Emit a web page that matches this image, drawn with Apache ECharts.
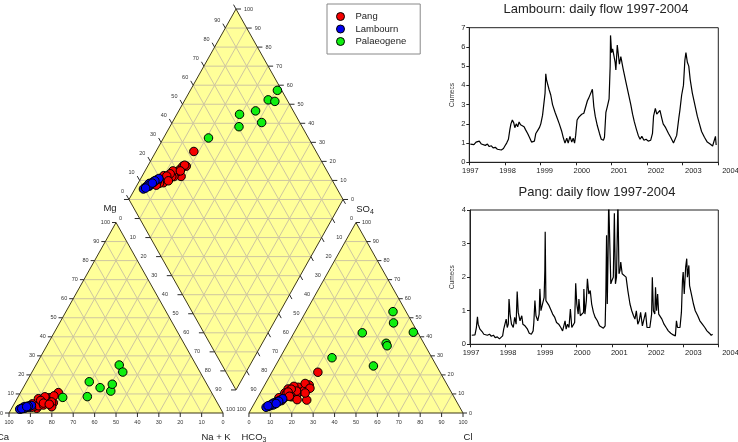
<!DOCTYPE html>
<html><head><meta charset="utf-8">
<script src="https://cdn.jsdelivr.net/npm/echarts@6/dist/echarts.min.js"></script>
<style>html,body{margin:0;padding:0;background:#fff}#c{width:738px;height:442px}</style>
</head><body><div id="c"></div>
<script>
// ---------------- DATA ----------------
// Piper samples: [Mg %, Na+K %, SO4 %, Cl %]  (Ca and HCO3 are the remainders to 100)
const pangSamples = [
  [10.7,17.7,21.4,21.5],[5.4,18.0,14.7,20.8],[3.3,18.3,6.8,23.6],[7.7,15.3,13.5,16.3],
  [6.8,13.4,12.6,12.0],[5.1,12.7,10.0,14.0],[2.5,11.7,8.0,12.5],[8.0,14.5,11.0,18.0],
  [6.0,16.0,12.0,20.0],[4.5,10.5,9.0,13.0],[5.5,11.0,10.5,11.5],[7.0,12.0,8.5,15.5],
  [4.0,9.5,7.5,11.0],[6.5,14.0,14.0,14.0],[3.5,10.0,6.5,12.0],[5.0,15.0,9.5,17.5],
  [9.0,16.5,15.5,18.5],[4.8,8.5,8.0,10.0],[6.2,13.0,11.5,16.5],[3.8,12.0,9.0,15.0],
  [7.5,10.0,10.0,12.5],[5.8,17.0,13.0,22.0],[4.2,14.0,7.0,19.0],[8.5,12.5,12.5,13.5],
  [3.0,9.0,6.0,10.5],[6.6,11.5,11.0,12.8],[5.2,13.5,8.8,14.5],[4.6,16.5,10.5,21.0]
];
const lambournSamples = [
  [2.5,5.0,4.0,8.0],[3.0,6.0,4.5,8.5],[2.8,5.5,5.0,9.0],[3.2,6.5,5.5,9.5],
  [3.5,7.0,6.0,10.0],[2.2,4.5,3.5,7.5],[3.0,7.5,6.5,11.0],[3.8,8.0,7.0,11.5],
  [2.6,6.2,4.8,9.8],[3.4,5.8,5.2,8.8],[4.0,8.5,7.5,12.0],[2.9,6.8,5.8,10.5],
  [3.1,5.2,4.2,9.2],[3.6,7.2,6.2,10.8],[2.4,5.6,4.6,8.2],[2.0,4.0,3.0,6.5],
  [2.3,4.8,3.8,7.0],[3.3,6.6,5.0,10.2]
];
const palaeogeneSamples = [
  [8.2,21.0,29.0,24.3],[8.6,32.3,24.7,45.8],[16.4,29.3,42.1,31.9],[13.3,35.9,36.6,45.8],
  [11.5,41.8,35.3,46.9],[15.1,40.7,42.4,55.6],[25.2,38.9,47.3,43.9],[21.5,42.4,53.2,40.7]
];
const seriesNames = ['Pang','Lambourn','Palaeogene'];
const seriesColors = ['#f50000','#0000f0','#10ee10'];
const pctTicks = [0,10,20,30,40,50,60,70,80,90,100];
const yearTicks = [1997,1998,1999,2000,2001,2002,2003,2004];

// daily flow (cumecs): [year, flow]
const lambournFlow = [
 [1997.03,0.95],[1997.13,0.92],[1997.19,1.05],[1997.23,0.98],[1997.28,1.10],[1997.34,0.95],[1997.39,1.00],
 [1997.45,0.88],[1997.51,0.95],[1997.56,0.82],[1997.62,0.86],[1997.67,0.75],[1997.73,0.78],[1997.79,0.68],
 [1997.84,0.70],[1997.90,0.64],[1997.96,0.72],[1998.00,0.85],[1998.05,1.00],[1998.10,1.20],[1998.14,1.70],
 [1998.17,2.00],[1998.21,2.20],[1998.25,2.05],[1998.28,1.80],[1998.32,2.00],[1998.36,1.85],[1998.40,2.10],
 [1998.44,1.95],[1998.49,2.05],[1998.54,1.85],[1998.58,1.70],[1998.64,1.50],[1998.69,1.30],[1998.75,1.05],
 [1998.80,1.00],[1998.83,1.10],[1998.87,1.50],[1998.92,1.65],[1998.97,1.80],[1999.01,2.00],[1999.06,2.45],
 [1999.10,2.50],[1999.13,3.60],[1999.15,4.60],[1999.17,4.30],[1999.24,3.80],[1999.29,3.50],[1999.34,3.00],
 [1999.41,2.60],[1999.47,2.30],[1999.53,2.00],[1999.60,1.60],[1999.64,1.30],[1999.69,1.00],[1999.74,1.25],
 [1999.78,1.00],[1999.83,1.35],[1999.88,1.05],[1999.92,1.25],[1999.96,1.00],[1999.99,1.40],[2000.03,2.20],
 [2000.08,2.35],[2000.16,2.50],[2000.22,2.55],[2000.26,2.50],[2000.32,3.20],[2000.36,3.35],[2000.41,3.25],
 [2000.46,3.80],[2000.50,2.90],[2000.54,2.40],[2000.60,1.90],[2000.66,1.50],[2000.71,1.20],[2000.77,1.15],
 [2000.80,1.30],[2000.84,2.60],[2000.88,2.90],[2000.93,3.30],[2000.96,5.00],[2000.97,6.60],[2001.00,5.70],
 [2001.03,5.90],[2001.06,6.00],[2001.10,5.20],[2001.12,4.80],[2001.16,6.10],[2001.19,6.20],[2001.22,5.10],
 [2001.26,5.50],[2001.28,5.30],[2001.32,4.90],[2001.40,4.20],[2001.47,3.60],[2001.54,3.00],[2001.59,2.50],
 [2001.64,2.10],[2001.70,1.70],[2001.75,1.40],[2001.80,1.20],[2001.85,1.35],[2001.91,1.15],[2001.97,1.20],
 [2002.03,1.10],[2002.10,1.15],[2002.15,1.50],[2002.18,2.40],[2002.23,2.80],[2002.27,2.50],[2002.31,2.60],
 [2002.36,2.70],[2002.41,2.30],[2002.45,2.00],[2002.52,1.80],[2002.60,1.50],[2002.66,1.30],[2002.74,1.00],
 [2002.79,0.90],[2002.83,1.40],[2002.89,2.30],[2002.92,2.70],[2002.97,3.50],[2003.02,4.00],[2003.06,5.30],
 [2003.09,5.70],[2003.13,5.20],[2003.17,5.00],[2003.21,4.30],[2003.27,3.60],[2003.34,3.00],[2003.41,2.40],
 [2003.47,2.00],[2003.53,1.60],[2003.61,1.30],[2003.69,1.05],[2003.77,0.95],[2003.84,0.85],[2003.89,0.78],
 [2003.92,1.35],[2003.94,0.90]
];
const pangFlow = [
 [1997.05,0.27],[1997.14,0.28],[1997.18,0.50],[1997.21,0.82],[1997.23,0.60],[1997.28,0.45],[1997.34,0.38],
 [1997.39,0.30],[1997.43,0.35],[1997.49,0.27],[1997.55,0.30],[1997.60,0.24],[1997.66,0.27],[1997.71,0.20],
 [1997.77,0.22],[1997.83,0.16],[1997.88,0.15],[1997.92,0.25],[1997.95,0.45],[1997.99,0.50],[1998.02,0.75],
 [1998.05,0.50],[1998.08,0.60],[1998.10,1.35],[1998.13,0.90],[1998.17,0.60],[1998.22,0.50],[1998.26,0.80],
 [1998.30,0.60],[1998.33,1.57],[1998.36,0.95],[1998.41,0.70],[1998.46,0.85],[1998.49,0.60],[1998.55,0.55],
 [1998.62,0.45],[1998.67,0.33],[1998.73,0.30],[1998.78,0.40],[1998.80,0.65],[1998.83,1.30],[1998.86,0.85],
 [1998.91,0.70],[1998.95,0.90],[1998.97,1.65],[1999.00,1.00],[1999.05,0.95],[1999.09,1.40],[1999.11,2.20],
 [1999.12,3.35],[1999.14,1.30],[1999.18,1.25],[1999.23,1.15],[1999.27,1.05],[1999.33,0.90],[1999.39,0.80],
 [1999.44,0.65],[1999.50,0.60],[1999.56,0.50],[1999.61,0.40],[1999.65,0.35],[1999.68,0.70],[1999.71,0.45],
 [1999.75,0.60],[1999.79,0.50],[1999.83,1.05],[1999.87,0.50],[1999.91,0.55],[1999.95,0.65],[1999.98,1.82],
 [2000.01,1.20],[2000.05,0.90],[2000.07,1.35],[2000.11,0.85],[2000.16,0.80],[2000.20,0.95],[2000.21,1.65],
 [2000.24,0.90],[2000.28,1.30],[2000.31,1.95],[2000.35,1.50],[2000.39,1.60],[2000.43,1.20],[2000.48,0.95],
 [2000.53,0.80],[2000.59,0.70],[2000.65,0.55],[2000.70,0.50],[2000.76,0.48],[2000.81,0.55],[2000.83,1.50],
 [2000.85,3.25],[2000.87,1.20],[2000.89,2.50],[2000.91,4.30],[2000.94,4.30],[2000.97,1.80],[2001.00,1.90],
 [2001.04,2.00],[2001.07,3.90],[2001.10,1.80],[2001.13,2.00],[2001.17,4.30],[2001.20,2.10],[2001.23,2.20],
 [2001.25,2.45],[2001.29,2.10],[2001.34,2.15],[2001.40,2.00],[2001.45,1.60],[2001.51,1.20],[2001.56,1.00],
 [2001.61,0.85],[2001.65,0.75],[2001.69,1.00],[2001.73,0.60],[2001.77,0.70],[2001.81,0.95],[2001.86,0.55],
 [2001.91,0.50],[2001.95,0.95],[2001.99,0.50],[2002.07,0.50],[2002.12,0.90],[2002.14,2.00],[2002.17,1.00],
 [2002.21,0.90],[2002.23,1.70],[2002.26,1.00],[2002.29,1.50],[2002.32,0.90],[2002.37,0.85],[2002.41,0.75],
 [2002.47,0.60],[2002.53,0.50],[2002.59,0.40],[2002.66,0.33],[2002.73,0.28],[2002.79,0.25],[2002.82,0.70],
 [2002.85,0.50],[2002.92,0.50],[2002.96,0.95],[2002.99,1.90],[2003.01,2.15],[2003.04,1.50],[2003.08,2.30],
 [2003.11,2.55],[2003.13,2.00],[2003.17,2.35],[2003.19,1.75],[2003.24,1.50],[2003.30,1.20],[2003.35,1.00],
 [2003.42,0.85],[2003.48,0.70],[2003.55,0.60],[2003.62,0.50],[2003.68,0.40],[2003.75,0.33],[2003.80,0.27],
 [2003.84,0.30]
];

// ---------------- PIPER GEOMETRY ----------------
const FONT = 'Liberation Sans, Arial, sans-serif';
const H = Math.sqrt(3) / 2;
const GAP = 12.1;
const X_MAX = 200 + GAP;
const Y_MAX = (200 + GAP) * H;
const LT = [[0, 0], [100, 0], [50, 100 * H]];
const RT = [[100 + GAP, 0], [200 + GAP, 0], [150 + GAP, 100 * H]];
const DB = [100 + GAP / 2, GAP * H];
const DL = [DB[0] - 50, DB[1] + 100 * H];
const DR = [DB[0] + 50, DB[1] + 100 * H];
const DT = [DB[0], DB[1] + 200 * H];
const FILL = '#ffff99', GRID = '#cec6a0', EDGE = '#3d3719', TICK = '#2a2a2a', TXT = '#333';

function cationPt(mg, nak) { return [nak + mg / 2, mg * H]; }
function anionPt(so4, cl) { return [100 + GAP + cl + so4 / 2, so4 * H]; }
function diamondPt(nak, so4, cl) {
  const hco3 = 100 - so4 - cl;
  return [100 + GAP / 2 + 0.5 * (nak - hco3), H * (GAP + 200 - nak - hco3)];
}
function piperPoints(samples) {
  const out = [];
  samples.forEach(s => { out.push(cationPt(s[0], s[1])); out.push(anionPt(s[2], s[3])); out.push(diamondPt(s[1], s[2], s[3])); });
  return out;
}

function renderPiperFrame(params, api) {
  const kids = [];
  const px = p => api.coord(p);
  const lerp = (a, b, f) => [a[0] + (b[0] - a[0]) * f, a[1] + (b[1] - a[1]) * f];
  const line = (A, B, stroke, w) => kids.push({ type: 'line', silent: true, shape: { x1: A[0], y1: A[1], x2: B[0], y2: B[1] }, style: { stroke: stroke, lineWidth: w } });
  const seg = (a, b, stroke, w) => line(px(a), px(b), stroke, w);
  const text = (t, x, y, align, size, extra) => kids.push({ type: 'text', silent: true, x: x, y: y,
    style: Object.assign({ text: t, fill: TXT, fontSize: size, fontFamily: FONT, align: align, verticalAlign: 'middle' }, extra || {}) });
  const polys = [LT, RT, [DB, DR, DT, DL]];
  polys.forEach(p => kids.push({ type: 'polygon', silent: true, shape: { points: p.map(px) }, style: { fill: FILL } }));
  [LT, RT].forEach(([p0, p1, p2]) => {
    for (let k = 1; k < 10; k++) {
      const f = k / 10;
      seg(lerp(p0, p2, f), lerp(p1, p2, f), GRID, 1);
      seg(lerp(p0, p1, f), lerp(p2, p1, f), GRID, 1);
      seg(lerp(p0, p1, f), lerp(p0, p2, f), GRID, 1);
    }
  });
  for (let k = 1; k < 10; k++) {
    const f = k / 10;
    seg(lerp(DL, DB, f), lerp(DT, DR, f), GRID, 1);
    seg(lerp(DL, DT, f), lerp(DB, DR, f), GRID, 1);
  }
  for (let k = 1; k < 20; k++) {
    const a = k <= 10 ? lerp(DB, DL, k / 10) : lerp(DL, DT, (k - 10) / 10);
    const b = k <= 10 ? lerp(DB, DR, k / 10) : lerp(DR, DT, (k - 10) / 10);
    seg(a, b, GRID, 1);
  }
  polys.forEach(p => kids.push({ type: 'polygon', silent: true, shape: { points: p.map(px) }, style: { fill: 'none', stroke: EDGE, lineWidth: 1 } }));

  const pdir = (a, b, len) => { const A = px(a), B = px(b); const dx = B[0] - A[0], dy = B[1] - A[1]; const n = Math.hypot(dx, dy); return [dx / n * len, dy / n * len]; };
  const upLeft = pdir(DB, DL, 5), downRight = pdir(DL, DB, 5);
  const TS = 5.5;
  pctTicks.forEach(v => {
    const f = v / 100;
    let P = px(lerp(LT[0], LT[1], f));
    line(P, [P[0], P[1] + 4], TICK, 1); text(String(100 - v), P[0], P[1] + 9, 'center', TS);
    P = px(lerp(LT[0], LT[2], f));
    line(P, [P[0] - 4, P[1]], TICK, 1); text(String(v), P[0] - 6, P[1], 'right', TS);
    P = px(lerp(LT[2], LT[1], f));
    text(String(v), P[0] + 3, P[1] - 4, 'left', TS);
    P = px(lerp(RT[0], RT[1], f));
    line(P, [P[0], P[1] + 4], TICK, 1); text(String(v), P[0], P[1] + 9, 'center', TS);
    P = px(lerp(RT[1], RT[2], f));
    line(P, [P[0] + 4, P[1]], TICK, 1); text(String(v), P[0] + 6, P[1], 'left', TS);
    P = px(lerp(RT[2], RT[0], f));
    text(String(v), P[0] - 3, P[1] - 4, 'right', TS);
    P = px(lerp(DL, DB, f));
    line(P, [P[0] - 5, P[1]], TICK, 1);
    P = px(lerp(DL, DT, f));
    line(P, [P[0] + upLeft[0], P[1] + upLeft[1]], TICK, 1);
    if (v < 100) text(String(v), P[0] - 5, P[1] - 7.5, 'right', TS);
    P = px(lerp(DR, DT, f));
    line(P, [P[0] + 5, P[1]], TICK, 1); text(String(v), P[0] + 8, P[1], 'left', TS);
    if (v < 100) { P = px(lerp(DR, DB, f)); line(P, [P[0] + downRight[0], P[1] + downRight[1]], TICK, 1); }
  });
  const TT = 9.5;
  const sub = { a: { fontSize: TT, fontFamily: FONT, fill: '#222' }, b: { fontSize: 7, fontFamily: FONT, fill: '#222', padding: [6, 0, 0, 0] } };
  let P = px(LT[0]); text('Ca', P[0] - 6, P[1] + 24, 'center', TT, { fill: '#222' });
  P = px(LT[1]); text('Na + K', P[0] - 7, P[1] + 24, 'center', TT, { fill: '#222' });
  P = px(RT[0]); text('{a|HCO}{b|3}', P[0] + 5, P[1] + 24, 'center', TT, { rich: sub });
  P = px(RT[1]); text('Cl', P[0] + 5, P[1] + 24, 'center', TT, { fill: '#222' });
  P = px(LT[2]); text('Mg', P[0] - 6, P[1] - 14, 'center', TT, { fill: '#222' });
  P = px(RT[2]); text('{a|SO}{b|4}', P[0] + 9, P[1] - 13, 'center', TT, { rich: sub });
  return { type: 'group', children: kids };
}

// ---------------- CHART ----------------
const chart = echarts.init(document.getElementById('c'), null, { renderer: 'canvas' });
const yearRich = {};
yearTicks.forEach((y, i) => { yearRich['s' + i] = { fontSize: 7.5, fontFamily: FONT, color: '#222', padding: [0, 0, 0, 2 * (1 + 1.6 * i)] }; });
function timeAxis(gi) {
  return { gridIndex: gi, type: 'value', min: 1997, max: 2004, interval: 1,
    axisLine: { show: true, lineStyle: { color: '#222', width: 1 } },
    axisTick: { show: true, length: 3, lineStyle: { color: '#222' } },
    axisLabel: { margin: 5, formatter: v => '{s' + Math.round(v - 1997) + '|' + v + '}', rich: yearRich },
    splitLine: { show: false } };
}
function flowAxis(gi, max) {
  return { gridIndex: gi, type: 'value', min: 0, max: max, interval: 1,
    axisLine: { show: true, lineStyle: { color: '#222', width: 1 } },
    axisTick: { show: true, length: 3, lineStyle: { color: '#222' } },
    axisLabel: { margin: 4, fontSize: 7.5, color: '#222', fontFamily: FONT },
    splitLine: { show: false },
    name: 'Cumecs', nameLocation: 'middle', nameGap: 14,
    nameTextStyle: { fontSize: 6.5, color: '#333', fontFamily: FONT } };
}
const titleStyle = { fontSize: 13, fontWeight: 'normal', color: '#222', fontFamily: FONT };
const option = {
  animation: false,
  textStyle: { fontFamily: FONT },
  title: [
    { text: 'Lambourn: daily flow 1997-2004', left: 596, top: 3, padding: 0, textAlign: 'center', textStyle: titleStyle },
    { text: 'Pang: daily flow 1997-2004', left: 597, top: 186, padding: 0, textAlign: 'center', textStyle: titleStyle }
  ],
  legend: {
    data: seriesNames, orient: 'vertical', left: 327, top: 4, selectedMode: false,
    icon: 'circle', itemWidth: 20, itemHeight: 8, itemGap: 1.5,
    padding: [7, 14, 7, 9], borderColor: '#888', borderWidth: 1, borderRadius: 0,
    itemStyle: { borderColor: '#000', borderWidth: 1 },
    textStyle: { fontSize: 9.5, color: '#222', fontFamily: FONT, lineHeight: 11 }
  },
  grid: [
    { left: 9, top: 9, width: 454, height: 404, outerBoundsMode: 'none' },
    { left: 469.3, top: 27.7, width: 249, height: 134.6, show: true, borderColor: '#222', borderWidth: 1, backgroundColor: 'transparent', outerBoundsMode: 'none' },
    { left: 470, top: 210, width: 248.3, height: 134.3, show: true, borderColor: '#222', borderWidth: 1, backgroundColor: 'transparent', outerBoundsMode: 'none' }
  ],
  xAxis: [
    { gridIndex: 0, type: 'value', min: 0, max: X_MAX, show: false },
    timeAxis(1), timeAxis(2)
  ],
  yAxis: [
    { gridIndex: 0, type: 'value', min: 0, max: Y_MAX, show: false },
    flowAxis(1, 7), flowAxis(2, 4)
  ],
  series: [
    { type: 'custom', xAxisIndex: 0, yAxisIndex: 0, silent: true, clip: false, data: [[0, 0]], renderItem: renderPiperFrame },
    ...[pangSamples, lambournSamples, palaeogeneSamples].map((s, i) => ({
      name: seriesNames[i], type: 'scatter', xAxisIndex: 0, yAxisIndex: 0, silent: true,
      symbol: 'circle', symbolSize: 8.5, data: piperPoints(s),
      itemStyle: { color: seriesColors[i], borderColor: '#000', borderWidth: 1, opacity: 1 }
    })),
    { type: 'line', xAxisIndex: 1, yAxisIndex: 1, data: lambournFlow, showSymbol: false, silent: true,
      lineStyle: { color: '#000', width: 1.2 }, clip: true },
    { type: 'line', xAxisIndex: 2, yAxisIndex: 2, data: pangFlow, showSymbol: false, silent: true,
      lineStyle: { color: '#000', width: 1.2 }, clip: true }
  ]
};
chart.setOption(option);
</script></body></html>
